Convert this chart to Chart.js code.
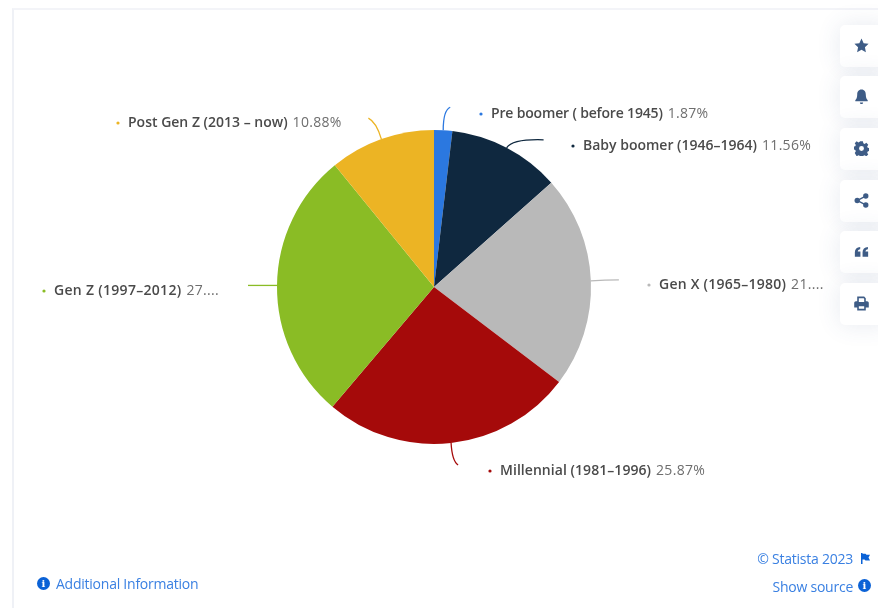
<!DOCTYPE html>
<html>
<head>
<meta charset="utf-8">
<title>Generations</title>
<script src="https://cdn.jsdelivr.net/npm/chart.js@4"></script>
<style>
html, body { margin: 0; padding: 0; background: #fff; overflow: hidden; }
body { width: 878px; height: 608px; position: relative; font-family: "Open Sans", sans-serif; }
.card { position: absolute; left: 12px; top: 8px; width: 900px; height: 640px; border-left: 2px solid #eff1f6; border-top: 2px solid #f3f4f8; box-sizing: border-box; }
#chart { position: absolute; left: 0; top: 0; }
.tool { position: absolute; left: 840px; width: 48px; height: 42px; background: #fff; border-radius: 5px; box-shadow: 0 0 24px rgba(60, 80, 130, 0.12); }
.tool svg { position: absolute; left: 14px; top: 13px; width: 15px; height: 15px; fill: #3e5c86; }
.link { position: absolute; color: #3a80e2; font-size: 14px; letter-spacing: -0.24px; line-height: 18px; white-space: nowrap; }
.badge { position: absolute; width: 13px; height: 13px; border-radius: 50%; background: #0b62d6; color: #fff; font: bold 10px/13px "DejaVu Serif", serif; text-align: center; }
</style>
</head>
<body>
<div class="card"></div>
<canvas id="chart" width="878" height="608"></canvas>

<div class="tool" style="top:25px"><svg viewBox="0 0 14 14"><path d="M7 .5l2 4.3 4.6.6-3.4 3.2.9 4.7L7 11l-4.1 2.3.9-4.7L.4 5.4 5 4.8z"/></svg></div>
<div class="tool" style="top:76px"><svg viewBox="0 0 14 14"><path d="M7 .5c2.8 0 4 2.200 4 4.700 0 3 .8 4.300 1.800 5.300v1H1.200v-1C2.200 9.500 3 8.200 3 5.200 3 2.700 4.200.5 7 .5zM5.500 12.500h3C8.500 13.500 7.800 14 7 14s-1.500-.5-1.500-1.500z"/></svg></div>
<div class="tool" style="top:128px"><svg viewBox="0 0 14 14"><path fill-rule="evenodd" d="M5.700.3h2.600l.4 1.900 1.200.5 1.600-1 1.800 1.800-1 1.600.5 1.200 1.900.4v2.600l-1.900.4-.5 1.200 1 1.600-1.800 1.800-1.600-1-1.200.5-.4 1.900H5.700l-.4-1.900-1.200-.5-1.600 1L.7 11.100l1-1.600-.5-1.200-1.900-.4V5.300l1.900-.4.5-1.200-1-1.600L2.500.3l1.600 1 1.200-.5zM7 4.700a2.300 2.300 0 1 0 0 4.600 2.300 2.300 0 0 0 0-4.600z"/></svg></div>
<div class="tool" style="top:180px"><svg viewBox="0 0 14 14"><circle cx="11" cy="2.800" r="2.500"/><circle cx="3" cy="7" r="2.500"/><circle cx="11" cy="11.200" r="2.500"/><path d="M3 6.300l8-4.200.6 1.200-8 4.200zM3.600 6.500l8 4.200-.6 1.200-8-4.200z"/></svg></div>
<div class="tool" style="top:231px"><svg viewBox="0 0 14 14"><path d="M.8 12V7.800C.8 4.800 2.600 3 5.800 2.800v2C4.300 5 3.600 5.700 3.500 7h2.500v5zM8 12V7.800C8 4.800 9.800 3 13 2.800v2c-1.500.2-2.200.9-2.300 2.200h2.500v5z"/></svg></div>
<div class="tool" style="top:283px"><svg viewBox="0 0 14 14"><path fill-rule="evenodd" d="M3 .5h6.500L11 2v3h1.200c.9 0 1.600.7 1.600 1.600v4.200H11v2.700H3v-2.700H.2V6.600C.2 5.700.9 5 1.800 5H3zM4.500 2v3.500h5V2.600L9 2zM4.500 9.500V12h5V9.500z"/></svg></div>

<span class="badge" style="left:37px;top:577px">i</span>
<span class="link" style="left:56px;top:575px">Additional Information</span>
<span class="link" style="right:25px;top:550px">© Statista 2023</span>
<svg style="position:absolute;left:861px;top:553px;width:9px;height:11px" viewBox="0 0 9 11"><path fill="#0b62d6" d="M0 0h1.500v11H0zM1.500 .8h3l1 1H9L7.500 4.500 9 7.500H4.500l-1-1h-2z"/></svg>
<span class="link" style="right:25px;top:578px">Show source</span>
<span class="badge" style="left:858px;top:579px">i</span>

<script>
// Share of the population by generation, in percent
const generations = ['Pre boomer ( before 1945)', 'Baby boomer (1946-1964)', 'Gen X (1965-1980)', 'Millennial (1981-1996)', 'Gen Z (1997-2012)', 'Post Gen Z (2013 - now)'];
const shares = [1.87, 11.56, 21.9, 25.87, 27.92, 10.88];
// Two value labels get cut off by the narrow label box
const shareLabels = ['1.87%', '11.56%', '21....', '25.87%', '27....', '10.88%'];
const sliceColours = ['#2b78e0', '#0f283f', '#b9b9b9', '#a50a0a', '#8abc25', '#ecb424'];

// Where each label's text starts, its letter spacing, and how its leader line bends away from the slice
const labelAnchors = [
    { x: 491, y: 114.500, track: -0.17 }, { x: 583, y: 146.500, track: 0 }, { x: 659, y: 285.500, track: 0.24 },
    { x: 500, y: 471.500, track: 0.05 }, { x: 54, y: 291.500, track: 0.3 }, { x: 128, y: 123.500, track: 0 }
];
const leaders = [
    { cx: 0, cy: -20, ex: 7, ey: -23 }, { cx: 6, cy: -9, ex: 37, ey: -8 }, { cx: 14, cy: -1, ex: 28, ey: -1 },
    { cx: 1, cy: 18, ex: 7, ey: 22 }, { cx: -14, cy: 0, ex: -29, ey: 0 }, { cx: -5, cy: -17, ex: -13, ey: -21 }
];

const pieLabels = {
    id: 'pieLabels',
    afterDatasetsDraw(chart) {
        const ctx = chart.ctx;
        chart.getDatasetMeta(0).data.forEach((arc, i) => {
            const mid = (arc.startAngle + arc.endAngle) / 2;
            const sx = arc.x + Math.cos(mid) * arc.outerRadius;
            const sy = arc.y + Math.sin(mid) * arc.outerRadius;
            const l = leaders[i];
            const a = labelAnchors[i];

            ctx.save();
            ctx.strokeStyle = sliceColours[i];
            ctx.lineWidth = 1.3;
            ctx.beginPath();
            ctx.moveTo(sx, sy);
            ctx.quadraticCurveTo(sx + l.cx, sy + l.cy, sx + l.ex, sy + l.ey);
            ctx.stroke();

            // small bullet before the label
            ctx.fillStyle = sliceColours[i];
            ctx.beginPath();
            ctx.arc(a.x - 10, a.y - 0.5, 1.6, 0, Math.PI * 2);
            ctx.fill();

            ctx.textBaseline = 'middle';
            ctx.font = '600 14px "Open Sans"';
            ctx.letterSpacing = a.track + 'px';
            ctx.fillStyle = '#4a4a4a';
            const name = generations[i].replace(/-/g, '\u2013');
            ctx.fillText(name, a.x, a.y);
            const w = ctx.measureText(name).width;
            ctx.font = '14px "Open Sans"';
            ctx.letterSpacing = '0.3px';
            ctx.fillStyle = '#6e6e6e';
            ctx.fillText(shareLabels[i], a.x + w + 5, a.y);
            ctx.restore();
        });
    }
};

new Chart(document.getElementById('chart'), {
    type: 'pie',
    data: {
        labels: generations,
        datasets: [{
            data: shares,
            backgroundColor: sliceColours,
            borderWidth: 0,
            radius: 157
        }]
    },
    options: {
        responsive: false,
        animation: false,
        layout: { padding: { right: 10, bottom: 34 } },
        plugins: { legend: { display: false }, tooltip: { enabled: false } }
    },
    plugins: [pieLabels]
});
</script>
</body>
</html>
